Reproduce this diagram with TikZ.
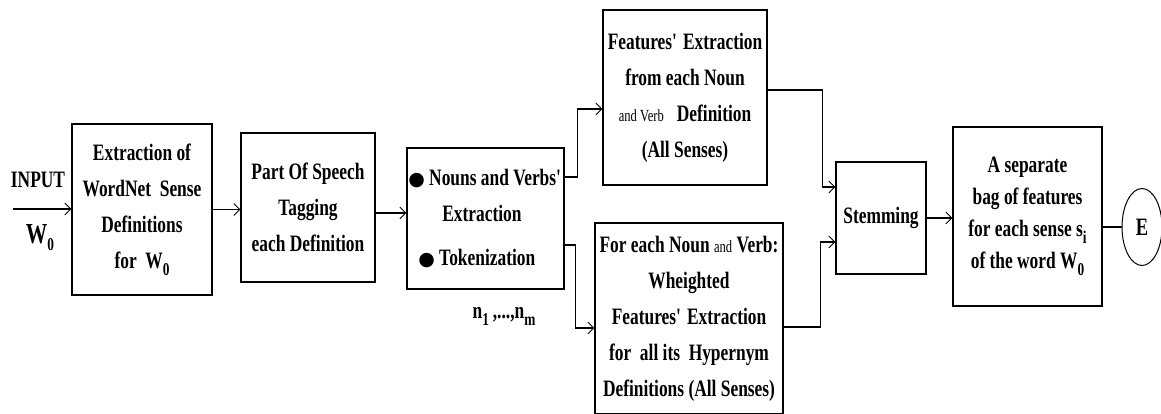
\documentclass[tikz,border=0pt]{standalone}
\usepackage{fontspec}
\setmainfont[FakeStretch=0.74]{Liberation Serif}
\newfontfamily\symfont{DejaVu Sans}
\usetikzlibrary{arrows.meta,shapes.geometric,positioning}
\newcommand{\lowsub}[2]{#1\raisebox{-7pt}{\fontsize{18}{18}\selectfont #2}}
\newcommand{\bigdot}{{\symfont\fontsize{19}{19}\selectfont ●}}
\newcommand{\smallw}[1]{{\mdseries\fontsize{17}{17}\selectfont #1}}
\newcommand{\apos}{\textquotesingle}

\begin{document}
\begin{tikzpicture}[x=1pt,y=-1pt,
    box/.style={draw, line width=1.1pt, align=center, inner sep=1pt, font=\bfseries\fontsize{23.5}{36}\selectfont},
    link/.style={line width=1.1pt, -{Straight Barb[length=6pt,width=12pt,line width=0.9pt]}},
    lbl/.style={font=\bfseries\fontsize{23.5}{26}\selectfont}]
  \useasboundingbox (0,0) rectangle (1161,414);
  % kotak-kotak utama
  \node[box, minimum width=140pt, minimum height=171pt] (extr) at (142,209.5) {Extraction of\\ WordNet~ Sense\\ Definitions\\ for~ \lowsub{W}{0}};
  \node[box, minimum width=134pt, minimum height=149pt] (tagger) at (308,207.5) {Part Of Speech\\ Tagging\\ each Definition};
  \node[box, minimum width=157pt, minimum height=141pt, align=left] (nouns) at (485.5,218.5) {\bigdot\ Nouns and Verbs\apos\\ \hspace{34pt}Extraction\\[8pt] \hspace{10pt}\bigdot\ Tokenization};
  \node[box, minimum width=164pt, minimum height=175pt] (feat) at (685,97.5) {Features\apos\ Extraction\\ from each Noun\\ \smallw{and Verb}~~ Definition\\ (All Senses)};
  \node[box, minimum width=188pt, minimum height=191pt] (hyper) at (689,318.5) {For each Noun \smallw{and} Verb:\\ Wheighted\\ Features\apos\ Extraction\\ for~ all its~ Hypernym\\ Definitions (All Senses)};
  \node[box, minimum width=90pt, minimum height=112pt] (stem) at (881,218) {Stemming};
  \node[box, minimum width=149pt, minimum height=179pt, font=\bfseries\fontsize{23.5}{32}\selectfont] (bag) at (1027.5,216.5) {A separate\\ bag of features\\ for each sense \lowsub{s}{i}\\ of the word \lowsub{W}{0}};
  \node[draw, ellipse, line width=1pt, minimum width=40pt, minimum height=77pt, inner sep=0pt, font=\bfseries\fontsize{25}{25}\selectfont] (fin) at (1142,227) {E};
  % masukan dan label
  \coordinate (start) at (13,209);
  \node[lbl] (inp) at (38,180) {INPUT};
  \node[lbl, font=\bfseries\fontsize{29}{29}\selectfont] (word) at (40,238) {\lowsub{W}{0}};
  \node[lbl] (terms) at (504,316) {\lowsub{n}{1}\,,...,\lowsub{n}{m}};
  % panah
  \draw[link] (start) -- (extr.west |- start);
  \draw[link] (extr.east) -- (tagger.west |- extr.east);
  \draw[link] (tagger.east |- 0,213) -- (nouns.west |- 0,213);
  \draw[link] (nouns.east |- 0,177) -- ++(13,0) |- (feat.west |- 0,109);
  \draw[link] (nouns.east |- 0,245) -- ++(11,0) |- (hyper.west |- 0,328);
  \draw[link] (feat.east |- 0,90) -- ++(55,0) |- (stem.west |- 0,187);
  \draw[link] (hyper.east |- 0,327) -- ++(37,0) |- (stem.west |- 0,242);
  \draw[link] (stem.east) -- (bag.west |- stem.east);
  \draw[line width=1.1pt] (bag.east |- fin.west) -- (fin.west);
\end{tikzpicture}
\end{document}
